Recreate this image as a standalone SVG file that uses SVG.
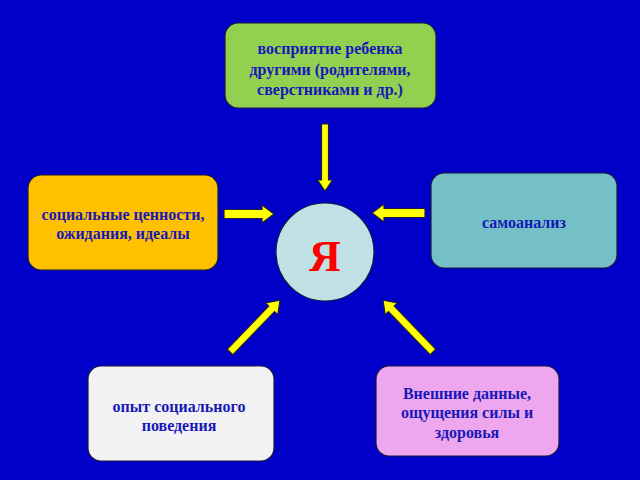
<svg xmlns="http://www.w3.org/2000/svg" width="640" height="480" viewBox="0 0 640 480">
<defs>
<style>
.box{stroke:#1a1a40;stroke-width:1.2}
.t{font-family:"Liberation Serif","Times New Roman",serif;font-weight:bold;font-size:16px;fill:#1818b8;text-anchor:middle}
.arr{fill:#ffff00;stroke:#202040;stroke-width:1.2}
</style>
</defs>
<rect x="0" y="0" width="640" height="480" fill="#0000c8"/>
<g id="connectors">
<polygon class="arr" points="321.5,124 328.5,124 328.5,180 332.5,180 325,191 317.5,180 321.5,180"/>
<polygon class="arr" points="224,209.5 262,209.5 262,205 274,214 262,223 262,218.5 224,218.5"/>
<polygon class="arr" points="425,208.5 384,208.5 384,204 372,213 384,222 384,217.5 425,217.5"/>
<polygon class="arr" transform="translate(230,352) rotate(-46)" points="0,-4 60,-4 60,-8.5 72,0 60,8.5 60,4 0,4"/>
<polygon class="arr" transform="translate(433,352) rotate(-134)" points="0,-4 60,-4 60,-8.5 72,0 60,8.5 60,4 0,4"/>
</g>
<g id="top">
<rect class="box" x="225" y="23" width="211" height="85" rx="13" fill="#92d050"/>
<text class="t" x="330" y="54">восприятие ребенка</text>
<text class="t" x="330" y="75">другими (родителями,</text>
<text class="t" x="330" y="95">сверстниками и др.)</text>
</g>
<g id="left">
<rect class="box" x="28" y="175" width="190" height="95" rx="13" fill="#ffc000"/>
<text class="t" x="123" y="220">социальные ценности,</text>
<text class="t" x="123" y="239">ожидания, идеалы</text>
</g>
<g id="right">
<rect class="box" x="431" y="173" width="186" height="95" rx="13" fill="#74c0c6"/>
<text class="t" x="524" y="228">самоанализ</text>
</g>
<g id="bottomleft">
<rect class="box" x="88" y="366" width="186" height="95" rx="13" fill="#f2f2f2"/>
<text class="t" x="179" y="412">опыт социального</text>
<text class="t" x="179" y="431">поведения</text>
</g>
<g id="bottomright">
<rect class="box" x="376" y="366" width="183" height="90" rx="13" fill="#eea6ee"/>
<text class="t" x="467" y="399">Внешние данные,</text>
<text class="t" x="467" y="418">ощущения силы и</text>
<text class="t" x="467" y="438">здоровья</text>
</g>
<g id="center">
<circle cx="325" cy="252" r="49" fill="#bfe0e4" stroke="#1a1a40" stroke-width="1.2"/>
<text x="325" y="271" font-family="Liberation Serif, Times New Roman, serif" font-weight="bold" font-size="44" fill="#ff0000" text-anchor="middle">Я</text>
</g>
</svg>
